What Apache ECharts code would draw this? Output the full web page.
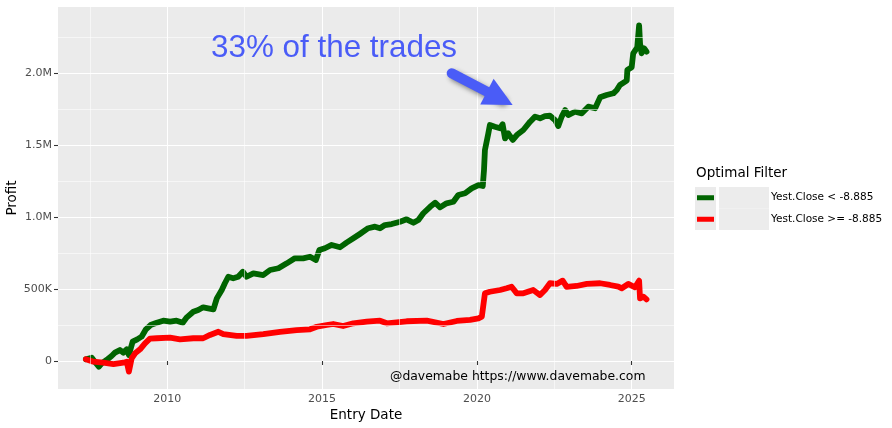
<!DOCTYPE html>
<html><head><meta charset="utf-8">
<script src="https://cdn.jsdelivr.net/npm/echarts@6/dist/echarts.min.js"></script>
<style>html,body{margin:0;padding:0;background:#fff}#chart{width:892px;height:428px}</style>
</head><body><div id="chart"></div>
<script>
// ---- data (profit in thousands of dollars, dates as decimal years) ----
const greenDates = [2007.37,2007.56,2007.66,2007.79,2007.88,2008.04,2008.20,2008.31,2008.47,2008.58,2008.69,2008.76,2008.88,2009.03,2009.17,2009.31,2009.46,2009.66,2009.87,2010.09,2010.30,2010.50,2010.63,2010.84,2011.00,2011.16,2011.32,2011.49,2011.60,2011.76,2011.86,2011.97,2012.13,2012.29,2012.44,2012.56,2012.78,2013.10,2013.32,2013.59,2013.86,2014.12,2014.39,2014.61,2014.80,2014.91,2015.09,2015.31,2015.58,2015.79,2016.01,2016.22,2016.49,2016.71,2016.87,2017.03,2017.25,2017.52,2017.73,2017.95,2018.11,2018.27,2018.49,2018.65,2018.81,2019.02,2019.24,2019.40,2019.62,2019.83,2020.05,2020.19,2020.23,2020.26,2020.37,2020.42,2020.58,2020.75,2020.83,2020.91,2021.01,2021.16,2021.29,2021.50,2021.72,2021.88,2022.04,2022.20,2022.36,2022.52,2022.63,2022.74,2022.85,2022.95,2023.17,2023.39,2023.60,2023.82,2023.98,2024.19,2024.41,2024.52,2024.62,2024.84,2024.86,2025.00,2025.05,2025.18,2025.24,2025.27,2025.32,2025.40,2025.48];
const greenProfit = [12,23,-5,-40,-16,7,35,58,76,58,81,42,134,150,169,220,250,266,280,273,280,266,303,342,354,373,366,359,435,493,540,585,574,585,620,585,609,597,632,644,678,713,713,724,701,770,783,806,790,822,852,882,922,933,922,944,951,967,984,960,979,1026,1071,1099,1067,1095,1106,1153,1165,1199,1222,1215,1326,1465,1581,1639,1627,1616,1644,1546,1581,1535,1569,1604,1662,1697,1685,1701,1703,1674,1632,1697,1743,1708,1731,1720,1766,1755,1831,1847,1859,1882,1917,1947,2021,2040,2137,2178,2330,2206,2137,2172,2148];
const redDates = [2007.37,2007.61,2007.93,2008.26,2008.58,2008.69,2008.76,2008.85,2008.96,2009.12,2009.28,2009.44,2009.66,2010.09,2010.41,2010.84,2011.16,2011.38,2011.65,2011.81,2012.24,2012.56,2013.10,2013.64,2014.18,2014.61,2014.83,2015.15,2015.36,2015.68,2016.01,2016.44,2016.87,2017.09,2017.73,2018.38,2018.92,2019.35,2019.78,2020.05,2020.16,2020.26,2020.42,2020.75,2020.96,2021.12,2021.29,2021.50,2021.82,2022.04,2022.20,2022.36,2022.58,2022.77,2022.90,2023.22,2023.55,2023.98,2024.30,2024.57,2024.68,2024.89,2025.11,2025.24,2025.27,2025.38,2025.48];
const redProfit = [12,-5,-12,-21,-12,-5,-74,19,53,81,123,155,158,162,150,158,158,181,203,187,174,174,187,203,215,220,238,250,257,243,262,273,280,262,276,280,257,278,285,296,308,470,481,493,505,516,470,470,493,458,493,540,535,558,515,521,535,540,528,516,505,535,512,558,435,447,428];
const seriesNames = ['Yest.Close < -8.885', 'Yest.Close >= -8.885'];
const seriesColors = ['#006400', '#ff0000'];
const xRange = [2006.47, 2026.367];
const yRange = [-194.4, 2458.3];
const xMinorBreaks = [2007.5, 2012.5, 2017.5, 2022.5];
const yMinorBreaks = [250, 750, 1250, 1750, 2250];
const arrowFrom = [2019.186, 1998];
const arrowTo = [2020.74, 1824];
const annotationText = '33% of the trades';
const creditText = '@davemabe https://www.davemabe.com';
const legendTitle = 'Optimal Filter';
const xTitle = 'Entry Date';
const yTitle = 'Profit';

const zip = (xs, ys) => xs.map((x, i) => [x, ys[i]]);
const blue = '#4a5cf7';
const tickFont = 'DejaVu Sans';

const chart = echarts.init(document.getElementById('chart'), null, {renderer: 'canvas'});
const lineSeries = (name, color, data) => ({
  name, type: 'line', data, z: 3, symbol: 'none', showSymbol: false, silent: true,
  lineStyle: {color, width: 5.8, cap: 'round', join: 'round'},
  itemStyle: {color}
});
chart.setOption({
  animation: false,
  title: {text: legendTitle, left: 696, top: 166, padding: 0,
    textStyle: {fontSize: 13.5, fontWeight: 'normal', fontFamily: tickFont, color: '#000'}},
  grid: {left: 58, top: 7, width: 616, height: 382, show: true, backgroundColor: '#ebebeb', borderWidth: 0,
    containLabel: false, outerBoundsMode: 'none'},
  xAxis: {
    type: 'value', min: xRange[0], max: xRange[1], splitNumber: 4,
    axisLine: {show: false},
    axisTick: {show: true, length: 4, lineStyle: {color: '#333', width: 1.07}},
    axisLabel: {color: '#4d4d4d', fontSize: 11, fontFamily: tickFont, margin: 5,
      showMinLabel: false, showMaxLabel: false, formatter: v => String(Math.round(v))},
    splitLine: {show: true, showMinLine: false, showMaxLine: false, lineStyle: {color: '#fff', width: 1.07}},
    name: xTitle, nameLocation: 'middle', nameGap: 19, nameMoveOverlap: false,
    nameTextStyle: {fontSize: 13.5, fontFamily: tickFont, color: '#000'}
  },
  yAxis: {
    type: 'value', min: yRange[0], max: yRange[1], splitNumber: 5,
    axisLine: {show: false},
    axisTick: {show: true, length: 4, lineStyle: {color: '#333', width: 1.07}},
    axisLabel: {color: '#4d4d4d', fontSize: 11, fontFamily: tickFont, margin: 6,
      showMinLabel: false, showMaxLabel: false,
      formatter: v => v === 0 ? '0' : (Math.abs(v) < 1000 ? Math.round(v) + 'K' : (v / 1000).toFixed(1) + 'M')},
    splitLine: {show: true, showMinLine: false, showMaxLine: false, lineStyle: {color: '#fff', width: 1.07}},
    name: yTitle, nameLocation: 'middle', nameGap: 39, nameMoveOverlap: false,
    nameTextStyle: {fontSize: 13.5, fontFamily: tickFont, color: '#000'}
  },
  legend: {
    orient: 'vertical', left: 697, top: 187, itemWidth: 17, itemHeight: 5, itemGap: 0,
    icon: 'rect', padding: 0, selectedMode: false, data: seriesNames,
    formatter: name => '{b|}{t|' + name + '}',
    textStyle: {rich: {
      b: {width: 50, height: 21.5, backgroundColor: '#ececec'},
      t: {fontSize: 10.5, fontFamily: tickFont, color: '#000', padding: [0, 0, 0, 2]}
    }}
  },
  graphic: [
    {type: 'rect', left: 695, top: 187, z: 0, shape: {width: 21, height: 43}, style: {fill: '#ebebeb'}},
    {type: 'text', left: 211, top: 33, z: 10, style: {text: annotationText, font: '31.4px "Liberation Sans", Arial, sans-serif', fill: blue}},
    {type: 'text', left: 390, top: 371, z: 10, style: {text: creditText, font: '12.4px "DejaVu Sans", sans-serif', fill: '#000'}}
  ],
  series: [
    {type: 'line', data: [], z: 1, silent: true,
      markLine: {silent: true, symbol: 'none', label: {show: false}, animation: false,
        lineStyle: {color: '#fff', width: 0.55, type: 'solid'},
        data: xMinorBreaks.map(v => ({xAxis: v})).concat(yMinorBreaks.map(v => ({yAxis: v})))}},
    lineSeries(seriesNames[0], seriesColors[0], zip(greenDates, greenProfit)),
    lineSeries(seriesNames[1], seriesColors[1], zip(redDates, redProfit)),
    {type: 'line', data: [], z: 5, silent: true,
      markLine: {silent: true, symbol: ['none', 'triangle'], symbolSize: 29, label: {show: false}, animation: false,
        lineStyle: {color: blue, width: 10, type: 'solid', cap: 'round', opacity: 1,
          shadowColor: 'rgba(0,0,0,0.45)', shadowBlur: 5, shadowOffsetX: 3, shadowOffsetY: 3},
        itemStyle: {color: blue},
        data: [[{coord: arrowFrom}, {coord: arrowTo}]]}}
  ]
});
</script></body></html>
